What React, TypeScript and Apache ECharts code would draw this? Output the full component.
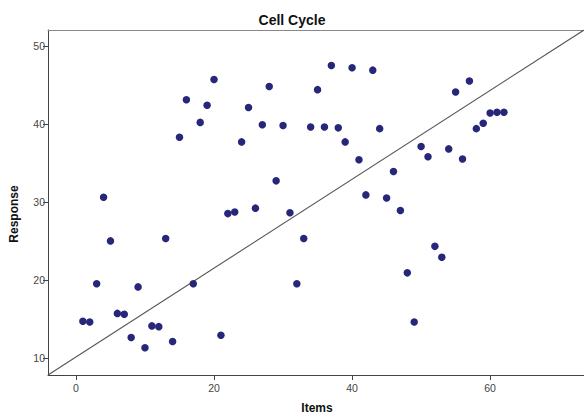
import React, { useEffect, useRef } from "react";
import * as echarts from "echarts";

const items = [
  1, 2, 3, 4, 5, 6, 7, 8, 9, 10, 11, 12, 13, 14, 15, 16, 17, 18, 19, 20,
  21, 22, 23, 24, 25, 26, 27, 28, 29, 30, 31, 32, 33, 34, 35, 36, 37, 38, 39, 40,
  41, 42, 43, 44, 45, 46, 47, 48, 49, 50, 51, 52, 53, 54, 55, 56, 57, 58, 59, 60,
  61, 62,
];
const responses = [
  14.7, 14.6, 19.5, 30.6, 25.0, 15.7, 15.6, 12.6, 19.1, 11.3,
  14.1, 14.0, 25.3, 12.1, 38.3, 43.1, 19.5, 40.2, 42.4, 45.7,
  12.9, 28.5, 28.7, 37.7, 42.1, 29.2, 39.9, 44.8, 32.7, 39.8,
  28.6, 19.5, 25.3, 39.6, 44.4, 39.6, 47.5, 39.5, 37.7, 47.2,
  35.4, 30.9, 46.9, 39.4, 30.5, 33.9, 28.9, 20.9, 14.6, 37.1,
  35.8, 24.3, 22.9, 36.8, 44.1, 35.5, 45.5, 39.4, 40.1, 41.4,
  41.5, 41.5,
];
const xTicks = [0, 20, 40, 60];
const yTicks = [10, 20, 30, 40, 50];
const xRange = [-4.05, 73.6];
const yRange = [7.8, 52.05];

export default function App() {
  const ref = useRef<HTMLDivElement>(null);
  useEffect(() => {
    if (!ref.current) return;
    const chart = echarts.init(ref.current, null, { renderer: "svg" });
    const font = "'Liberation Sans', Arial, sans-serif";
    const nameStyle = {
      fontFamily: font,
      fontSize: 12,
      fontWeight: "bold",
      fill: "#111",
      align: "center",
      verticalAlign: "middle",
    };
    chart.setOption({
      animation: false,
      backgroundColor: "#ffffff",
      title: {
        text: "Cell Cycle",
        left: "center",
        top: 8,
        textStyle: { fontFamily: font, fontSize: 14, fontWeight: "bold", color: "#111" },
      },
      graphic: [
        {
          type: "text",
          x: 14,
          y: 214,
          rotation: Math.PI / 2,
          style: { text: "Response", ...nameStyle },
        },
        {
          type: "text",
          x: 317,
          y: 408,
          style: { text: "Items", ...nameStyle },
        },
      ],
      grid: { left: 48, right: 0, top: 30, bottom: 40, outerBoundsMode: "none", containLabel: false },
      xAxis: [
        {
          type: "value",
          min: xRange[0],
          max: xRange[1],
          splitLine: { show: false },
          axisLine: { show: true, onZero: false, lineStyle: { color: "#444", width: 1 } },
          axisTick: { show: true, length: 5, customValues: xTicks, lineStyle: { color: "#444" } },
          axisLabel: { customValues: xTicks, fontFamily: font, fontSize: 10.5, color: "#444", margin: 7 },
        },
        {
          type: "value",
          position: "top",
          min: xRange[0],
          max: xRange[1],
          splitLine: { show: false },
          axisLine: { show: true, onZero: false, lineStyle: { color: "#888", width: 1 } },
          axisTick: { show: false },
          axisLabel: { show: false },
        },
      ],
      yAxis: {
        type: "value",
        min: yRange[0],
        max: yRange[1],
        splitLine: { show: false },
        axisLine: { show: true, onZero: false, lineStyle: { color: "#444", width: 1 } },
        axisTick: { show: true, length: 5, customValues: yTicks, lineStyle: { color: "#444" } },
        axisLabel: { customValues: yTicks, fontFamily: font, fontSize: 10.5, color: "#444", margin: 3 },
      },
      series: [
        {
          type: "line",
          data: [
            [xRange[0], yRange[0]],
            [xRange[1], yRange[1]],
          ],
          symbol: "none",
          lineStyle: { color: "#555", width: 1.1 },
          silent: true,
          z: 1,
        },
        {
          type: "scatter",
          data: items.map((x, i) => [x, responses[i]]),
          symbol: "circle",
          symbolSize: 7.5,
          itemStyle: { color: "#27277a", opacity: 1 },
          z: 2,
        },
      ],
    });
    return () => chart.dispose();
  }, []);
  return <div ref={ref} style={{ width: 584, height: 415, position: "absolute", left: 0, top: 0 }} />;
}
